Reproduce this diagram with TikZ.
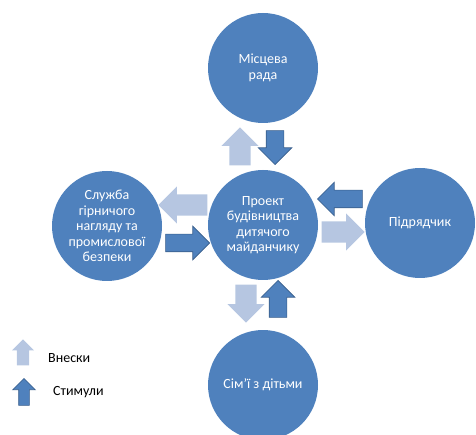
\documentclass[tikz,border=0pt]{standalone}
\usepackage{fontspec}
\setmainfont{Carlito}
\usepackage{tikz}
\usetikzlibrary{shapes.arrows}
\definecolor{circle_fill}{HTML}{4F81BD}
\definecolor{input_fill}{HTML}{B6C6E1}
\definecolor{stim_fill}{HTML}{4F81BD}
\definecolor{stim_border}{HTML}{385D8A}

\begin{document}
\begin{tikzpicture}[
  x=1pt, y=1pt,
  vertex/.style = {circle, fill=circle_fill, text=white, minimum size=110pt, inner sep=0pt, align=center, font=\fontsize{14}{15.5}\selectfont},
  inarrow/.style = {single arrow, fill=input_fill, inner xsep=0pt, inner ysep=10.5pt, single arrow head extend=8pt, anchor=tip},
  stimarrow/.style = {single arrow, fill=stim_fill, draw=stim_border, line width=0.6pt, inner xsep=0pt, inner ysep=8.5pt, single arrow head extend=8pt, anchor=tip},
]
\tikzstyle{every node}=[font=\fontsize{14}{15.5}\selectfont]
\useasboundingbox (0,0) rectangle (476,-435);

% Define vertices
\node[vertex] (Project) at (263,-225) {Проект\\будівництва\\дитячого\\майданчику};
\node[vertex] (Council) at (263,-68) {Місцева\\рада};
\node[vertex] (Inspection) at (107,-226) {Служба\\гірничого\\нагляду та\\промислової\\безпеки};
\node[vertex] (Contractor) at (420,-223) {Підрядчик};
\node[vertex] (Families) at (263,-385) {Сім'ї з дітьми};

% Draw block arrows
\node[inarrow, rotate=90, minimum height=38pt] (inCouncil) at (240,-127) {};
\node[stimarrow, rotate=-90, minimum height=34pt] (stCouncil) at (275,-165) {};
\node[inarrow, rotate=180, minimum height=49pt] (inInspection) at (158,-205) {};
\node[stimarrow, rotate=0, minimum height=44pt] (stInspection) at (210,-243) {};
\node[stimarrow, rotate=180, minimum height=45pt] (stContractor) at (317,-199) {};
\node[inarrow, rotate=0, minimum height=43pt] (inContractor) at (365,-232) {};
\node[inarrow, rotate=-90, minimum height=38pt] (inFamilies) at (246,-323) {};
\node[stimarrow, rotate=90, minimum height=37pt] (stFamilies) at (278,-280) {};

% Legend
\node[inarrow, rotate=90, minimum height=26pt, inner ysep=6pt, single arrow head extend=5pt] (inLegend) at (23,-339) {};
\node[stimarrow, rotate=90, minimum height=27pt, inner ysep=5pt, single arrow head extend=6pt] (stLegend) at (24,-378) {};
\node[anchor=west, inner sep=0pt] (inText) at (48,-358) {Внески};
\node[anchor=west, inner sep=0pt] (stText) at (53,-392) {Стимули};
\end{tikzpicture}
\end{document}
